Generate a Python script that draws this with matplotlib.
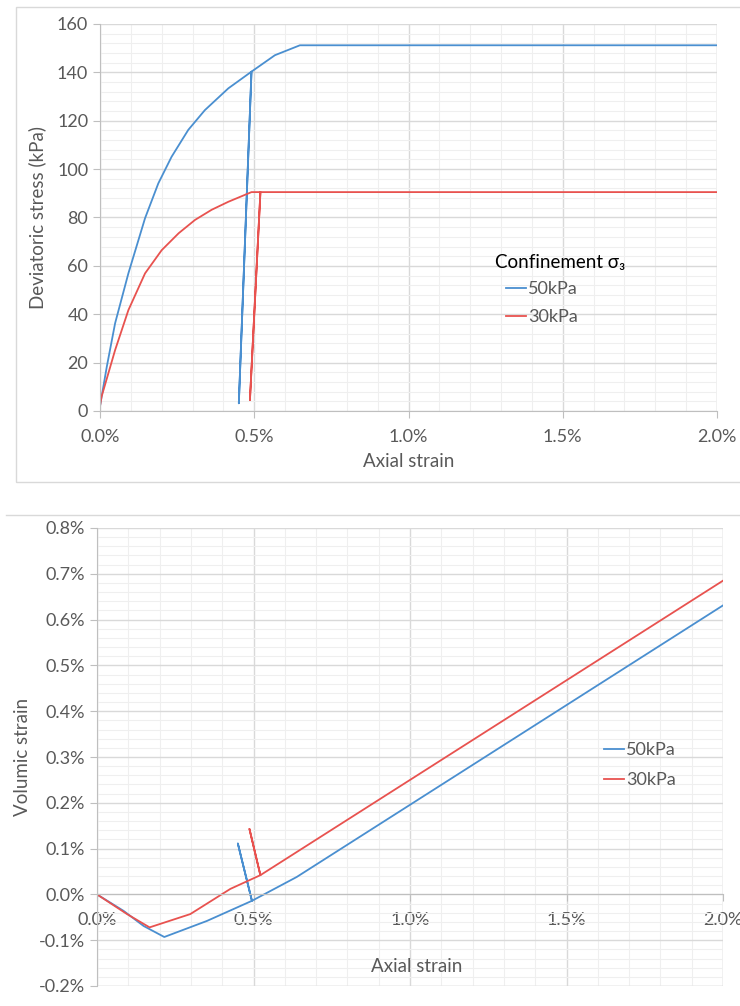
import matplotlib.pyplot as plt
from matplotlib.patches import Rectangle
from matplotlib.lines import Line2D
from matplotlib.ticker import MultipleLocator, FuncFormatter

plt.rcParams['font.family'] = ['Lato', 'DejaVu Sans']

# deviatoric stress vs axial strain (strain in %)
strain_50 = [0.0, 0.022, 0.049, 0.092, 0.146, 0.189, 0.232, 0.286, 0.340, 0.416, 0.491,
	0.450, 0.491, 0.567, 0.648, 2.0]
stress_50 = [2, 18.3, 36.3, 56.9, 79.7, 94.1, 105.1, 116.2, 124.4, 133.4, 140.3,
	3.2, 140.3, 147.1, 151.2, 151.2]
strain_30 = [0.0, 0.005, 0.049, 0.092, 0.146, 0.200, 0.255, 0.308, 0.362, 0.416, 0.491,
	0.520, 0.486, 0.520, 2.0]
stress_30 = [2, 5.9, 25.2, 41.7, 56.9, 66.5, 73.5, 79.0, 83.2, 86.5, 90.5,
	90.5, 4.5, 90.5, 90.5]

# volumic strain vs axial strain (both in %)
vstrain_x_50 = [0.0, 0.085, 0.149, 0.215, 0.351, 0.495, 0.450, 0.495, 0.638, 2.0]
vstrain_y_50 = [0.0, -0.036, -0.069, -0.093, -0.058, -0.014, 0.111, -0.014, 0.038, 0.631]
vstrain_x_30 = [0.0, 0.096, 0.168, 0.298, 0.426, 0.522, 0.487, 0.522, 2.0]
vstrain_y_30 = [0.0, -0.043, -0.072, -0.043, 0.012, 0.042, 0.143, 0.042, 0.685]

labels = ["50kPa", "30kPa"]
blue = "#4A8FD0"
red = "#E8524F"
tick_col = "#595959"
major_col = "#d9d9d9"
minor_col = "#efefef"
W, H = 740, 1006
FS = 13

fig = plt.figure(figsize=(W / 100, H / 100), dpi=100)


def fx(px):
	return px / W


def fy(py):
	return 1 - py / H


def style(ax):
	ax.grid(True, which="major", color=major_col, lw=1.0, zorder=0)
	ax.grid(True, which="minor", color=minor_col, lw=0.8, zorder=0)
	ax.set_axisbelow(True)
	for s in ["top", "right"]:
		ax.spines[s].set_visible(False)
	for s in ["left", "bottom"]:
		ax.spines[s].set_color("#bfbfbf")
	ax.tick_params(which="major", colors="#bfbfbf", labelcolor=tick_col, labelsize=FS, length=5)
	ax.tick_params(which="minor", length=0)


def legend(ax, x, y, spacing):
	leg = ax.legend(loc="upper left", bbox_to_anchor=(fx(x), fy(y)), bbox_transform=fig.transFigure,
		frameon=False, fontsize=FS, handlelength=1.1, handletextpad=0.12,
		labelspacing=spacing, borderaxespad=0, borderpad=0)
	for t in leg.get_texts():
		t.set_color(tick_col)
	return leg


pct = FuncFormatter(lambda v, p: "{:.1f}%".format(v))

# frames around the charts
fig.patches.append(Rectangle((fx(16), fy(482)), fx(740), fy(7) - fy(482),
	transform=fig.transFigure, fill=False, edgecolor="#d9d9d9", lw=1.0))
fig.lines.append(Line2D([fx(6), fx(740)], [fy(515), fy(515)], transform=fig.transFigure,
	color="#d9d9d9", lw=1.0))

# top chart
ax1 = fig.add_axes([fx(100), fy(411), fx(717) - fx(100), fy(24) - fy(411)])
ax1.plot(strain_50, stress_50, color=blue, lw=1.3, label=labels[0])
ax1.plot(strain_30, stress_30, color=red, lw=1.3, label=labels[1])
ax1.set_xlim(0, 2.0)
ax1.set_ylim(0, 160)
ax1.xaxis.set_major_locator(MultipleLocator(0.5))
ax1.xaxis.set_minor_locator(MultipleLocator(0.1))
ax1.yaxis.set_major_locator(MultipleLocator(20))
ax1.yaxis.set_minor_locator(MultipleLocator(4))
ax1.xaxis.set_major_formatter(pct)
style(ax1)
ax1.axvline(2.0, color=major_col, lw=1.0, zorder=0)
ax1.tick_params(axis="x", pad=8)
ax1.set_ylabel("Deviatoric stress (kPa)", fontsize=FS + 0.5, color=tick_col, labelpad=8)
ax1.set_xlabel("Axial strain", fontsize=FS + 0.5, color=tick_col, labelpad=6)
fig.text(fx(495), fy(262), "Confinement σ₃", fontsize=FS + 0.5, color="black", ha="left", va="center")
legend(ax1, 506, 281, 0.66)

# bottom chart
ax2 = fig.add_axes([fx(97), fy(986), fx(723) - fx(97), fy(528) - fy(986)])
ax2.plot(vstrain_x_50, vstrain_y_50, color=blue, lw=1.3, label=labels[0])
ax2.plot(vstrain_x_30, vstrain_y_30, color=red, lw=1.3, label=labels[1])
ax2.set_xlim(0, 2.0)
ax2.set_ylim(-0.2, 0.8)
ax2.xaxis.set_major_locator(MultipleLocator(0.5))
ax2.xaxis.set_minor_locator(MultipleLocator(0.1))
ax2.yaxis.set_major_locator(MultipleLocator(0.1))
ax2.yaxis.set_minor_locator(MultipleLocator(0.02))
ax2.xaxis.set_major_formatter(pct)
ax2.yaxis.set_major_formatter(pct)
style(ax2)
ax2.spines["bottom"].set_position(("data", 0))
ax2.axvline(2.0, color=major_col, lw=1.0, zorder=0)
ax2.axhline(-0.2, color=major_col, lw=1.0, zorder=0)
ax2.tick_params(axis="x", pad=8)
ax2.set_ylabel("Volumic strain", fontsize=FS + 0.5, color=tick_col, labelpad=6)
fig.text(fx(417), fy(966), "Axial strain", fontsize=FS + 0.5, color=tick_col, ha="center", va="center")
legend(ax2, 604, 742, 0.8)

fig.savefig("out.png", dpi=100)
